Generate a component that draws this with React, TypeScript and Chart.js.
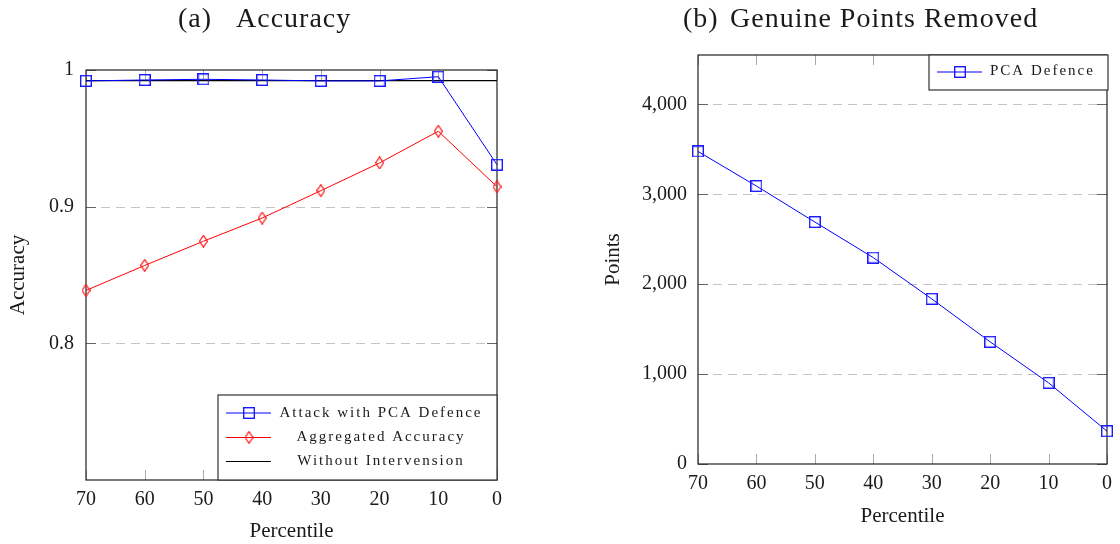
import React, { useEffect, useRef } from "react";
import { Chart, registerables } from "chart.js";

Chart.register(...registerables);

// ---------- data ----------
const percentiles = [70, 60, 50, 40, 30, 20, 10, 0];
const attackWithPCA = [0.992, 0.9927, 0.9932, 0.9927, 0.992, 0.992, 0.9951, 0.9307];
const aggregatedAccuracy = [0.8387, 0.857, 0.8747, 0.8917, 0.9117, 0.932, 0.9552, 0.9146];
const withoutIntervention = [0.9922, 0.9922, 0.9922, 0.9922, 0.9922, 0.9922, 0.9922, 0.9922];
const accuracyTicks = [0.8, 0.9, 1];
const pointsRemoved = [3477, 3092, 2692, 2296, 1837, 1359, 903, 365];
const pointsTicks = [0, 1000, 2000, 3000, 4000];

const SERIF = '"Liberation Serif", "Times New Roman", serif';
const TEXT = "#1a1a1a";

function squareMarker(color: string, size: number, lw: number) {
  const c = document.createElement("canvas");
  c.width = size;
  c.height = size;
  const ctx = c.getContext("2d")!;
  ctx.strokeStyle = color;
  ctx.lineWidth = lw;
  ctx.strokeRect(lw / 2, lw / 2, size - lw, size - lw);
  return c;
}

function diamondMarker(color: string, w: number, h: number, lw: number) {
  const c = document.createElement("canvas");
  c.width = w;
  c.height = h;
  const ctx = c.getContext("2d")!;
  ctx.strokeStyle = color;
  ctx.lineWidth = lw;
  ctx.beginPath();
  ctx.moveTo(w / 2, lw / 2);
  ctx.lineTo(w - lw / 2, h / 2);
  ctx.lineTo(w / 2, h - lw / 2);
  ctx.lineTo(lw / 2, h / 2);
  ctx.closePath();
  ctx.stroke();
  return c;
}

function framePlugin(gridValues: number[]) {
  return {
    id: "frame",
    beforeDatasetsDraw(chart: any) {
      const { ctx, chartArea: a, scales } = chart;
      ctx.save();
      // dashed horizontal grid
      ctx.strokeStyle = "#c4c4c4";
      ctx.lineWidth = 1;
      ctx.setLineDash([9, 6]);
      for (const v of gridValues) {
        const py = Math.round(scales.y.getPixelForValue(v)) + 0.5;
        if (py <= a.top + 1 || py >= a.bottom - 1) continue;
        ctx.beginPath();
        ctx.moveTo(a.left, py);
        ctx.lineTo(a.right, py);
        ctx.stroke();
      }
      ctx.setLineDash([]);
      // x tick marks (inward, top and bottom)
      ctx.strokeStyle = "#a8a8a8";
      for (const t of scales.x.ticks) {
        const px = Math.round(scales.x.getPixelForValue(t.value)) + 0.5;
        ctx.beginPath();
        ctx.moveTo(px, a.bottom);
        ctx.lineTo(px, a.bottom - 10);
        ctx.moveTo(px, a.top);
        ctx.lineTo(px, a.top + 10);
        ctx.stroke();
      }
      // y tick marks (inward, left and right)
      ctx.strokeStyle = "#666";
      for (const t of scales.y.ticks) {
        const py = Math.round(scales.y.getPixelForValue(t.value)) + 0.5;
        ctx.beginPath();
        ctx.moveTo(a.left, py);
        ctx.lineTo(a.left + 10, py);
        ctx.moveTo(a.right, py);
        ctx.lineTo(a.right - 10, py);
        ctx.stroke();
      }
      // frame
      ctx.strokeStyle = "#222";
      ctx.lineWidth = 1.2;
      ctx.strokeRect(a.left, a.top, a.right - a.left, a.bottom - a.top);
      ctx.restore();
    },
  };
}

type LegendItem = { text: string; color: string; marker: HTMLCanvasElement | null };

function legendPlugin(
  items: LegendItem[],
  geo: (a: any) => { x: number; y: number; w: number; h: number },
  rowLines: number[],
  rowBase: number[],
  textX: number,
  align: CanvasTextAlign
) {
  return {
    id: "customLegend",
    afterDatasetsDraw(chart: any) {
      const { ctx, chartArea } = chart;
      const g = geo(chartArea);
      ctx.save();
      ctx.fillStyle = "#fff";
      ctx.fillRect(g.x, g.y, g.w, g.h);
      ctx.strokeStyle = "#333";
      ctx.lineWidth = 1.2;
      ctx.strokeRect(g.x, g.y, g.w, g.h);
      items.forEach((it, i) => {
        const ly = g.y + rowLines[i];
        ctx.strokeStyle = it.color;
        ctx.lineWidth = 1;
        ctx.beginPath();
        ctx.moveTo(g.x + 8, ly);
        ctx.lineTo(g.x + 53, ly);
        ctx.stroke();
        if (it.marker) {
          ctx.drawImage(it.marker, g.x + 31 - it.marker.width / 2, ly - it.marker.height / 2);
        }
        ctx.fillStyle = TEXT;
        ctx.font = `15px ${SERIF}`;
        (ctx as any).letterSpacing = "2px";
        ctx.textAlign = align;
        ctx.textBaseline = "alphabetic";
        ctx.fillText(it.text, g.x + textX, g.y + rowBase[i]);
        (ctx as any).letterSpacing = "0px";
      });
      ctx.restore();
    },
  };
}

function titlePlugin(label: string, title: string, xLabel: number, xTitle: number) {
  return {
    id: "customTitle",
    afterDraw(chart: any) {
      const { ctx } = chart;
      ctx.save();
      ctx.fillStyle = TEXT;
      ctx.font = `28px ${SERIF}`;
      ctx.textAlign = "left";
      ctx.textBaseline = "alphabetic";
      (ctx as any).letterSpacing = "1px";
      ctx.fillText(label, xLabel, 27);
      ctx.fillText(title, xTitle, 27);
      (ctx as any).letterSpacing = "0px";
      ctx.restore();
    },
  };
}

function xScale(height: number) {
  return {
    type: "linear",
    min: 0,
    max: 70,
    reverse: true,
    afterBuildTicks: (s: any) => {
      s.ticks = percentiles.map((v) => ({ value: v }));
    },
    afterFit: (s: any) => {
      s.height = height;
    },
    grid: { display: false, drawTicks: false },
    border: { display: false },
    ticks: {
      padding: 8,
      color: TEXT,
      font: { family: SERIF, size: 20 },
      callback: (v: any) => String(v),
      maxRotation: 0,
    },
    title: {
      display: true,
      text: "Percentile",
      color: TEXT,
      font: { family: SERIF, size: 21 },
      padding: { top: 0, bottom: 0 },
    },
  };
}

export default function App() {
  const leftRef = useRef<HTMLCanvasElement>(null);
  const rightRef = useRef<HTMLCanvasElement>(null);

  useEffect(() => {
    const blueSq = squareMarker("#1a1aff", 12, 1.4);
    const redDia = diamondMarker("#ff1a1a", 9, 13, 1.2);

    const left = new Chart(leftRef.current!, {
      type: "line",
      data: {
        datasets: [
          {
            label: "Attack with PCA Defence",
            data: percentiles.map((p, i) => ({ x: p, y: attackWithPCA[i] })),
            borderColor: "#0000ff",
            borderWidth: 1,
            pointStyle: blueSq,
            pointRadius: 6,
            clip: false,
          },
          {
            label: "Aggregated Accuracy",
            data: percentiles.map((p, i) => ({ x: p, y: aggregatedAccuracy[i] })),
            borderColor: "#ff0000",
            borderWidth: 1,
            pointStyle: redDia,
            pointRadius: 6,
            clip: false,
          },
          {
            label: "Without Intervension",
            data: percentiles.map((p, i) => ({ x: p, y: withoutIntervention[i] })),
            borderColor: "#000000",
            borderWidth: 1.2,
            pointRadius: 0,
            clip: false,
          },
        ],
      } as any,
      options: {
        animation: false,
        responsive: false,
        devicePixelRatio: 1,
        events: [],
        layout: { padding: { top: 70, right: 63, bottom: 0, left: 0 } },
        plugins: { legend: { display: false }, tooltip: { enabled: false }, title: { display: false } },
        scales: {
          x: xScale(64),
          y: {
            type: "linear",
            min: 0.7,
            max: 1,
            afterBuildTicks: (s: any) => {
              s.ticks = accuracyTicks.map((v) => ({ value: v }));
            },
            afterFit: (s: any) => {
              s.width = 86;
            },
            grid: { display: false, drawTicks: false },
            border: { display: false },
            ticks: {
              padding: 12,
              color: TEXT,
              font: { family: SERIF, size: 20 },
              callback: (v: any) => String(v),
            },
            title: {
              display: true,
              text: "Accuracy",
              color: TEXT,
              font: { family: SERIF, size: 21 },
              padding: { top: 5.4, bottom: 0 },
            },
          },
        } as any,
      },
      plugins: [
        framePlugin(accuracyTicks),
        legendPlugin(
          [
            { text: "Attack with PCA Defence", color: "#0000ff", marker: blueSq },
            { text: "Aggregated Accuracy", color: "#ff0000", marker: redDia },
            { text: "Without Intervension", color: "#000000", marker: null },
          ],
          (a: any) => ({ x: a.right - 279, y: a.bottom - 85, w: 279, h: 85 }),
          [18, 42.5, 66.5],
          [22, 45.5, 70],
          163,
          "center"
        ),
        titlePlugin("(a)", "Accuracy", 178, 236),
      ] as any,
    });

    const right = new Chart(rightRef.current!, {
      type: "line",
      data: {
        datasets: [
          {
            label: "PCA Defence",
            data: percentiles.map((p, i) => ({ x: p, y: pointsRemoved[i] })),
            borderColor: "#0000ff",
            borderWidth: 1,
            pointStyle: blueSq,
            pointRadius: 6,
            clip: false,
          },
        ],
      } as any,
      options: {
        animation: false,
        responsive: false,
        devicePixelRatio: 1,
        events: [],
        layout: { padding: { top: 55, right: 12, bottom: 15, left: 0 } },
        plugins: { legend: { display: false }, tooltip: { enabled: false }, title: { display: false } },
        scales: {
          x: xScale(65),
          y: {
            type: "linear",
            min: 0,
            max: 4550,
            afterBuildTicks: (s: any) => {
              s.ticks = pointsTicks.map((v) => ({ value: v }));
            },
            afterFit: (s: any) => {
              s.width = 138;
            },
            grid: { display: false, drawTicks: false },
            border: { display: false },
            ticks: {
              padding: 11,
              color: TEXT,
              font: { family: SERIF, size: 20 },
              callback: (v: any) => Number(v).toLocaleString("en-US"),
            },
            title: {
              display: true,
              text: "Points",
              color: TEXT,
              font: { family: SERIF, size: 21 },
              padding: { top: 40.4, bottom: 0 },
            },
          },
        } as any,
      },
      plugins: [
        framePlugin(pointsTicks),
        legendPlugin(
          [{ text: "PCA Defence", color: "#0000ff", marker: blueSq }],
          (a: any) => ({ x: a.right - 178, y: a.top, w: 179, h: 35 }),
          [17],
          [20],
          61,
          "left"
        ),
        titlePlugin("(b)", "Genuine Points Removed", 123, 170),
      ] as any,
    });

    return () => {
      left.destroy();
      right.destroy();
    };
  }, []);

  return (
    <div style={{ position: "absolute", left: 0, top: 0, width: 1120, height: 544, background: "#fff" }}>
      <canvas ref={leftRef} width={560} height={544} style={{ position: "absolute", left: 0, top: 0 }} />
      <canvas ref={rightRef} width={560} height={544} style={{ position: "absolute", left: 560, top: 0 }} />
    </div>
  );
}
